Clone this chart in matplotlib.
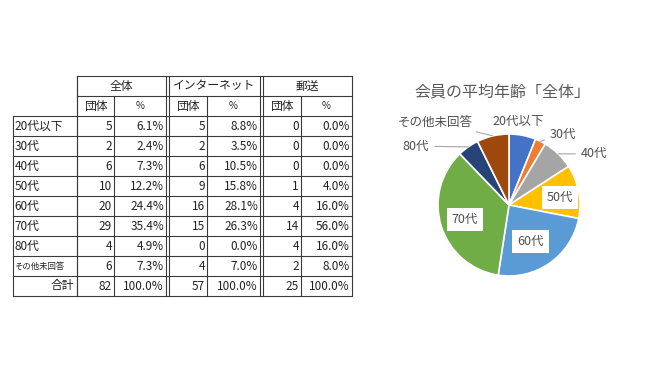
import numpy as np
import matplotlib.pyplot as plt

plt.rcParams['font.family'] = ['Noto Sans CJK JP', 'DejaVu Sans']

# data
age_groups = ['20代以下', '30代', '40代', '50代', '60代', '70代', '80代', 'その他未回答']
all_count = [5, 2, 6, 10, 20, 29, 4, 6]
web_count = [5, 2, 6, 9, 16, 15, 0, 4]
mail_count = [0, 0, 0, 1, 4, 14, 4, 2]
group_names = ['全体', 'インターネット', '郵送']
sub_headers = ['団体', '%']
total_label = '合計'
pie_title = '会員の平均年齢「全体」'

pie_colors = ['#4472C4', '#ED7D31', '#A5A5A5', '#FFC000',
              '#5B9BD5', '#70AD47', '#264478', '#9E480E']

fig = plt.figure(figsize=(6.65, 3.74), dpi=100)

# ---- table (drawn in pixel coordinates) ----
tab = fig.add_axes([0, 0, 1, 1])
tab.set_xlim(0, 665)
tab.set_ylim(374, 0)
tab.axis('off')

x_left, x_lab = 13, 77
groups_x = [(77, 114, 166), (168.5, 207, 260), (263, 301, 352)]
y_top, row_h = 76, 20
n_rows = len(age_groups) + 1
y_bot = y_top + row_h * (2 + n_rows)
lc = '#3a3a3a'
tc = '#222222'
lw = 0.8
fs = 8.5

# horizontal lines
tab.plot([x_lab, 352], [y_top, y_top], color=lc, lw=lw)
tab.plot([x_lab, 352], [y_top + row_h, y_top + row_h], color=lc, lw=lw)
for i in range(n_rows + 1):
    y = y_top + row_h * (2 + i)
    tab.plot([x_left, 352], [y, y], color=lc, lw=lw)

# vertical lines
tab.plot([x_left, x_left], [y_top + 2 * row_h, y_bot], color=lc, lw=lw)
tab.plot([x_lab, x_lab], [y_top, y_bot], color=lc, lw=lw)
for gi, (x0, xm, x1) in enumerate(groups_x):
    tab.plot([x0, x0], [y_top, y_bot], color=lc, lw=lw)
    tab.plot([x1, x1], [y_top, y_bot], color=lc, lw=lw)
    tab.plot([xm, xm], [y_top + row_h, y_bot], color=lc, lw=lw)
    tab.text((x0 + x1) / 2, y_top + row_h / 2, group_names[gi],
             ha='center', va='center', fontsize=fs, color=tc)
    tab.text((x0 + xm) / 2, y_top + 1.5 * row_h, sub_headers[0],
             ha='center', va='center', fontsize=fs, color=tc)
    tab.text((xm + x1) / 2, y_top + 1.5 * row_h, sub_headers[1],
             ha='center', va='center', fontsize=fs - 1.5, color=tc)

columns = [all_count, web_count, mail_count]
for r in range(n_rows):
    yc = y_top + row_h * (2.5 + r)
    if r < len(age_groups):
        lab = age_groups[r]
        tab.text(x_left + 1.5, yc, lab, ha='left', va='center', color=tc,
                 fontsize=fs if len(lab) < 6 else 6)
    else:
        tab.text(x_lab - 3, yc, total_label, ha='right', va='center',
                 fontsize=fs, color=tc)
    for gi, (x0, xm, x1) in enumerate(groups_x):
        vals = columns[gi]
        tot = sum(vals)
        v = vals[r] if r < len(age_groups) else tot
        tab.text(xm - 2, yc, str(v), ha='right', va='center', fontsize=fs,
                 color=tc)
        tab.text(x1 - 2, yc, f'{100 * v / tot:.1f}%', ha='right', va='center',
                 fontsize=fs, color=tc)

# ---- pie chart ----
cx, cy, rad = 509, 205, 71
box = 240
pax = fig.add_axes([(cx - box / 2) / 665, (374 - cy - box / 2) / 374,
                    box / 665, box / 374])
wedges, _ = pax.pie(all_count, colors=pie_colors, startangle=90,
                    counterclock=False,
                    wedgeprops=dict(edgecolor='white', linewidth=1.2))
lim = box / (2 * rad)
pax.set_xlim(-lim, lim)
pax.set_ylim(-lim, lim)
pax.set_aspect('equal')
pax.axis('off')

# label layout (radius units) and whether a leader line is drawn
label_pos = [(0.13, 1.17), (0.76, 1.0), (1.20, 0.72), (0.72, 0.11),
             (0.30, -0.52), (-0.62, -0.21), (-1.31, 0.83), (-1.04, 1.17)]
leader = [False, True, True, False, False, False, True, True]
inside = [False, False, False, True, True, True, False, False]
lab_color = '#505050'
lab_fs = 9

for w, lab, pos, ld, ins in zip(wedges, age_groups, label_pos, leader, inside):
    ang = np.deg2rad((w.theta1 + w.theta2) / 2)
    edge = (np.cos(ang), np.sin(ang))
    if ins:
        pax.text(pos[0], pos[1], lab, ha='center', va='center',
                 fontsize=lab_fs, color=lab_color,
                 bbox=dict(boxstyle='square,pad=0.4', fc='white', ec='none'))
    elif ld:
        pax.annotate(lab, xy=edge, xytext=pos, ha='center', va='center',
                     fontsize=lab_fs, color=lab_color,
                     arrowprops=dict(arrowstyle='-', color='#a6a6a6', lw=0.8,
                                     shrinkA=2, shrinkB=0))
    else:
        pax.text(pos[0], pos[1], lab, ha='center', va='center',
                 fontsize=lab_fs, color=lab_color)

fig.text(502 / 665, 1 - 92 / 374, pie_title, ha='center', va='center',
         fontsize=11.5, color='#595959')

fig.savefig('out.png', dpi=100)
